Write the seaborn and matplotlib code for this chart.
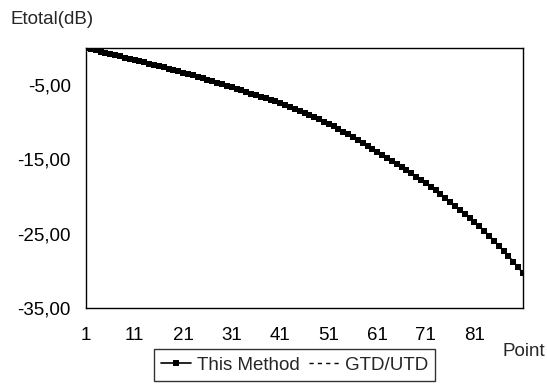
import numpy as np
import pandas as pd
import matplotlib
matplotlib.use('Agg')
import matplotlib.pyplot as plt
import seaborn as sns
from matplotlib.ticker import FuncFormatter

# ── Data ──────────────────────────────────────────────────────────────────────
points = list(range(1, 92))

this_method = [
    0.00, -0.16, -0.32, -0.48, -0.64, -0.80, -0.96, -1.12, -1.28, -1.44,
    -1.60, -1.77, -1.94, -2.11, -2.28, -2.45, -2.62, -2.79, -2.96, -3.13,
    -3.30, -3.50, -3.70, -3.90, -4.10, -4.30, -4.50, -4.70, -4.90, -5.10,
    -5.30, -5.50, -5.71, -5.92, -6.13, -6.34, -6.55, -6.76, -6.97, -7.18,
    -7.40, -7.66, -7.92, -8.19, -8.46, -8.74, -9.02, -9.31, -9.60, -9.90,
    -10.20, -10.55, -10.91, -11.27, -11.64, -12.01, -12.39, -12.78, -13.18, -13.59,
    -14.00, -14.40, -14.80, -15.21, -15.62, -16.04, -16.46, -16.89, -17.32, -17.76,
    -18.20, -18.67, -19.16, -19.66, -20.17, -20.69, -21.22, -21.75, -22.29, -22.84,
    -23.40, -24.00, -24.62, -25.26, -25.92, -26.60, -27.30, -28.02, -28.76, -29.52,
    -30.30,
]
# GTD/UTD curve lies under the "This Method" curve in the picture
gtd_utd = list(this_method)

x_ticks = [1, 11, 21, 31, 41, 51, 61, 71, 81]
y_ticks = [-35, -25, -15, -5]

df = pd.DataFrame({'Point': points, 'This Method': this_method, 'GTD/UTD': gtd_utd})

# ── Style ─────────────────────────────────────────────────────────────────────
sns.set_style('white')
plt.rcParams['font.family'] = ['Liberation Sans', 'DejaVu Sans']
FS = 13.5

fig = plt.figure(figsize=(5.47, 3.85), dpi=100)
ax = fig.add_axes([86 / 547, 1 - 308 / 385, (523 - 86) / 547, (308 - 48) / 385])

sns.lineplot(data=df, x='Point', y='GTD/UTD', ax=ax, color='black',
             linewidth=1.0, linestyle=(0, (3, 3)), label='GTD/UTD')
sns.lineplot(data=df, x='Point', y='This Method', ax=ax, color='black',
             linewidth=2.2, marker='s', markersize=4.5, markeredgewidth=0,
             label='This Method')

ax.set_xlim(1, 91)
ax.set_ylim(-35, 0)
ax.set_xticks(x_ticks)
ax.set_yticks(y_ticks)
ax.yaxis.set_major_formatter(FuncFormatter(lambda v, _: f'{v:.2f}'.replace('.', ',')))
ax.tick_params(axis='both', which='major', direction='out', length=5, width=1,
               color='black', labelsize=FS, labelcolor='black', pad=6)
ax.tick_params(axis='x', pad=9)
for s in ax.spines.values():
    s.set_color('black')
    s.set_linewidth(1.0)
ax.set_xlabel('')
ax.set_ylabel('')

fig.text(10 / 547, 1 - 20 / 385, 'Etotal(dB)', fontsize=FS, ha='left', va='center')
fig.text(545 / 547, 1 - 352 / 385, 'Point', fontsize=FS, ha='right', va='center')

handles, labels = ax.get_legend_handles_labels()
order = [labels.index('This Method'), labels.index('GTD/UTD')]
handles[order[0]].set_linewidth(1.2)
handles[order[0]].set_markersize(4)
leg = ax.legend([handles[i] for i in order], [labels[i] for i in order],
                loc='center', bbox_to_anchor=(294.5 / 547, 1 - 365 / 385),
                bbox_transform=fig.transFigure, ncol=2, frameon=True,
                fancybox=False, fontsize=FS, handlelength=1.6,
                handletextpad=0.3, columnspacing=0.5, borderpad=0.4,
                borderaxespad=0)
leg.get_frame().set_edgecolor('black')
leg.get_frame().set_linewidth(1.0)

fig.savefig('out.png', dpi=100)
